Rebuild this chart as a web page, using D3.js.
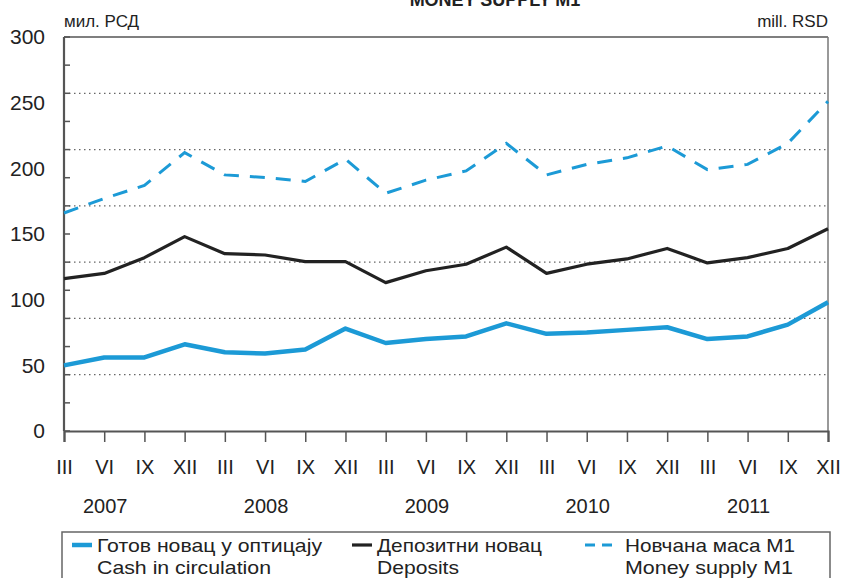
<!DOCTYPE html>
<html>
<head>
<meta charset="utf-8">
<script src="https://cdn.jsdelivr.net/npm/d3@7"></script>
<style>
  body { margin: 0; background: #fff; }
  text { font-family: "Liberation Sans", Arial, sans-serif; fill: #222; }
</style>
</head>
<body>
<svg width="845" height="578"></svg>
<script>
// quarters, III 2007 .. XII 2011
var quarters = ["III", "VI", "IX", "XII", "III", "VI", "IX", "XII", "III", "VI",
  "IX", "XII", "III", "VI", "IX", "XII", "III", "VI", "IX", "XII"];
var years = ["2007", "2008", "2009", "2010", "2011"];
var yTicks = [0, 50, 100, 150, 200, 250, 300];

// values (axis units)
var cash = [50, 56, 56, 66, 60, 59, 62, 78, 67, 70, 72, 82, 74, 75, 77, 79, 70, 72, 81, 98];
var deposits = [116, 120, 132, 148, 135, 134, 129, 129, 113, 122, 127, 140, 120, 127, 131, 139, 128, 132, 139, 154];
var money = [166, 177, 187, 212, 195, 193, 190, 207, 181, 191, 198, 219, 195, 203, 208, 217, 199, 203, 219, 251];

var svg = d3.select("svg");
var plotLeft = 64, plotRight = 828, plotTop = 37, plotBottom = 431;
var blue = "#1c9ad6";

var x = d3.scalePoint().domain(d3.range(quarters.length)).range([plotLeft, plotRight]);
var y = d3.scaleLinear().domain([0, 300]).range([plotBottom, plotTop]);

// title (cut off at the top)
svg.append("text").attr("x", 495).attr("y", 6).attr("text-anchor", "middle")
  .style("font-size", "18px").style("font-weight", "bold").text("MONEY SUPPLY M1");

svg.append("text").attr("x", 64).attr("y", 27).style("font-size", "17px").text("мил. РСД");
svg.append("text").attr("x", 828).attr("y", 27).attr("text-anchor", "end")
  .style("font-size", "17px").text("mill. RSD");

// dotted grid lines (7 bands as in the source)
var grid = d3.range(1, 7).map(function (k) { return 300 * k / 7; });
svg.append("g").selectAll("line").data(grid).enter().append("line")
  .attr("x1", plotLeft).attr("x2", plotRight)
  .attr("y1", function (d) { return y(d); }).attr("y2", function (d) { return y(d); })
  .attr("stroke", "#666").attr("stroke-width", 1.3).attr("stroke-dasharray", "1.5,3.5");

// frame
svg.append("line").attr("x1", plotLeft).attr("x2", plotRight).attr("y1", plotTop).attr("y2", plotTop)
  .attr("stroke", "#555").attr("stroke-width", 1.5);
svg.append("line").attr("x1", plotRight).attr("x2", plotRight).attr("y1", plotTop).attr("y2", plotBottom)
  .attr("stroke", "#777").attr("stroke-width", 1.5);

// small inner ticks on the y axis
var minor = d3.range(0, 15).map(function (k) { return 300 * k / 14; });
svg.append("g").selectAll("line").data(minor).enter().append("line")
  .attr("x1", plotLeft).attr("x2", plotLeft + 6)
  .attr("y1", function (d) { return y(d); }).attr("y2", function (d) { return y(d); })
  .attr("stroke", "#555").attr("stroke-width", 1.5);

// y labels
var yAxis = svg.append("g").attr("transform", "translate(" + plotLeft + ",0)")
  .call(d3.axisLeft(y).tickValues(yTicks).tickSize(0).tickPadding(19));
yAxis.select(".domain").remove();
yAxis.selectAll("text").style("font-size", "21px").style("font-family", "Liberation Sans, Arial, sans-serif").attr("fill", "#333");

svg.append("line").attr("x1", plotLeft).attr("x2", plotLeft).attr("y1", plotTop).attr("y2", plotBottom)
  .attr("stroke", "#555").attr("stroke-width", 2.2);

// x axis
var xAxis = svg.append("g").attr("transform", "translate(0," + plotBottom + ")")
  .call(d3.axisBottom(x).tickSize(11).tickPadding(18).tickFormat(function (i) { return quarters[i]; }));
xAxis.select(".domain").attr("stroke", "#555").attr("stroke-width", 2.2);
xAxis.selectAll(".tick line").attr("stroke", "#555").attr("stroke-width", 1.5);
xAxis.selectAll("text").style("font-size", "20px").style("font-family", "Liberation Sans, Arial, sans-serif").attr("fill", "#333");

svg.append("g").selectAll("text").data(years).enter().append("text")
  .attr("x", function (d, i) { return x(i * 4 + 1) + 1; })
  .attr("y", 513).attr("text-anchor", "middle")
  .style("font-size", "20px").attr("fill", "#333").text(function (d) { return d; });

// lines
var line = d3.line().x(function (d, i) { return x(i); }).y(function (d) { return y(d); });

svg.append("path").datum(money).attr("d", line).attr("fill", "none")
  .attr("stroke", blue).attr("stroke-width", 3).attr("stroke-dasharray", "15,11");
svg.append("path").datum(deposits).attr("d", line).attr("fill", "none")
  .attr("stroke", "#222").attr("stroke-width", 3.2).attr("stroke-linejoin", "round");
svg.append("path").datum(cash).attr("d", line).attr("fill", "none")
  .attr("stroke", blue).attr("stroke-width", 4.5).attr("stroke-linejoin", "round");

// legend box
svg.append("path").attr("d", "M62,585V532H830V585").attr("fill", "none")
  .attr("stroke", "#666").attr("stroke-width", 1.5);

var legend = [
  { sr: "Готов новац у оптицају", en: "Cash in circulation", x: 72, w: 4.5, c: blue, dash: null, srW: 225, enW: 174 },
  { sr: "Депозитни новац", en: "Deposits", x: 352, w: 3.2, c: "#222", dash: null, srW: 165, enW: 82 },
  { sr: "Новчана маса М1", en: "Money supply M1", x: 585, w: 3, c: blue, dash: "10,7", srW: 170, enW: 168 }
];
var lg = svg.append("g").selectAll("g").data(legend).enter().append("g");
lg.append("line").attr("x1", function (d) { return d.x; })
  .attr("x2", function (d) { return d.x + (d.dash ? 27 : 20); })
  .attr("y1", 545).attr("y2", 545)
  .attr("stroke", function (d) { return d.c; })
  .attr("stroke-width", function (d) { return d.w; })
  .attr("stroke-dasharray", function (d) { return d.dash; });
lg.append("text").attr("x", function (d) { return d.x + (d.dash ? 40 : 25); }).attr("y", 552)
  .attr("textLength", function (d) { return d.srW; }).attr("lengthAdjust", "spacingAndGlyphs")
  .style("font-size", "19px").text(function (d) { return d.sr; });
lg.append("text").attr("x", function (d) { return d.x + (d.dash ? 40 : 25); }).attr("y", 574)
  .attr("textLength", function (d) { return d.enW; }).attr("lengthAdjust", "spacingAndGlyphs")
  .style("font-size", "19px").text(function (d) { return d.en; });
</script>
</body>
</html>
